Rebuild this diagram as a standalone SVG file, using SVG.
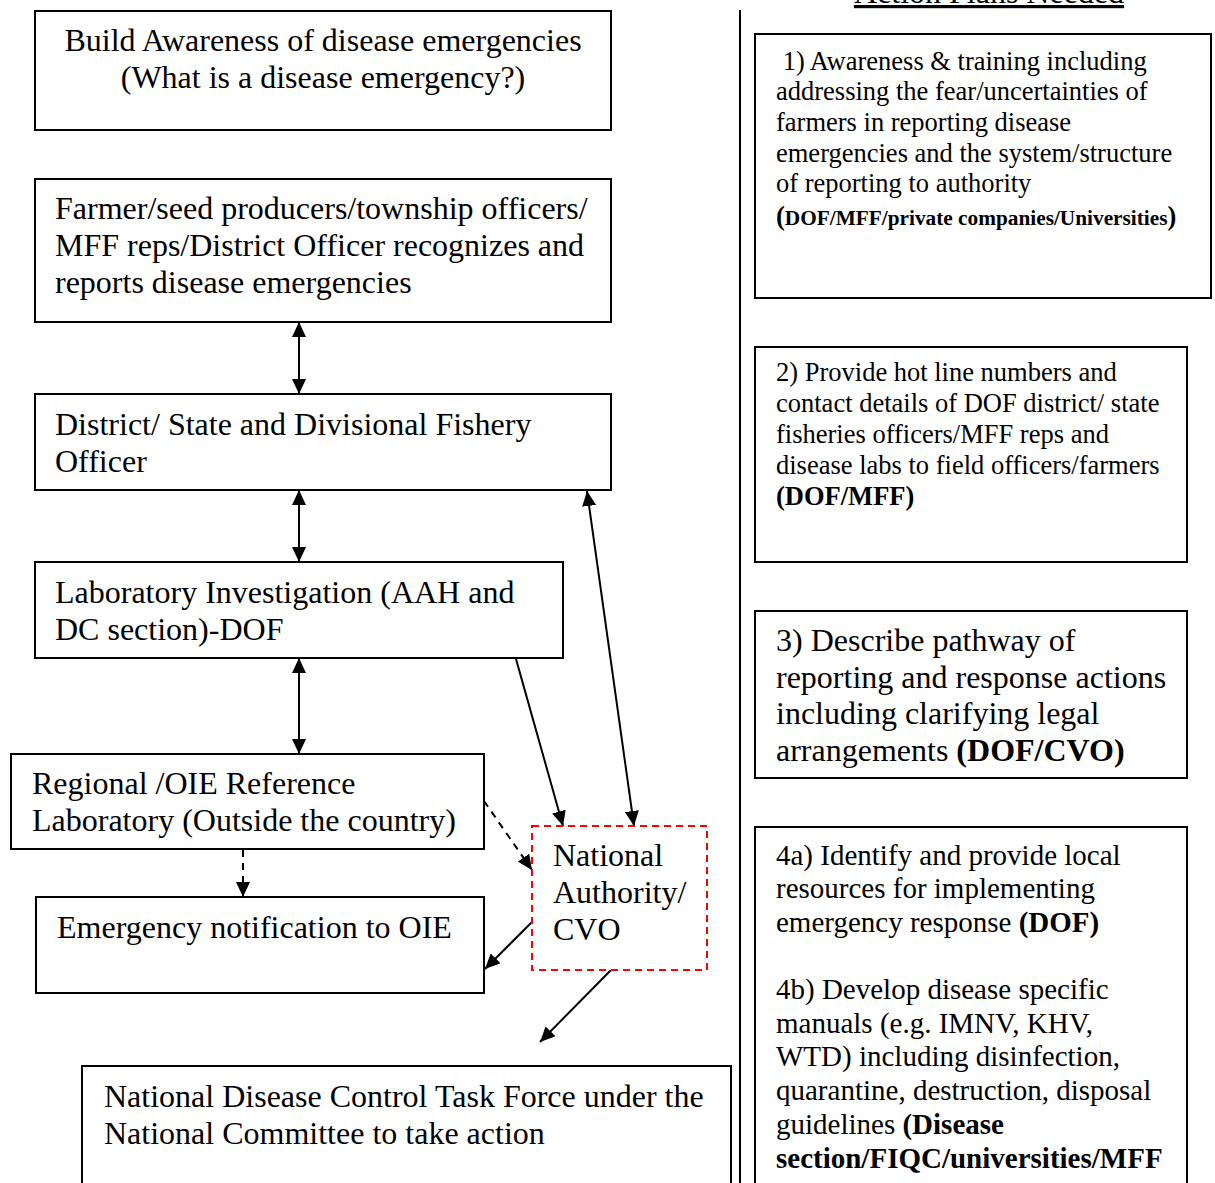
<svg xmlns="http://www.w3.org/2000/svg" width="1215" height="1183" viewBox="0 0 1215 1183">
<style>
.box{fill:#fff;stroke:#000;stroke-width:2}
.cvo{fill:#fff;stroke:#ff0000;stroke-width:2;stroke-dasharray:7,5}
.t{font-family:"Liberation Serif","Times New Roman",serif;fill:#000}
.t32{font-size:32px}
.t26{font-size:26.5px}
.t29{font-size:29px}
.b{font-weight:bold}
.c{stroke:#000;stroke-width:2;fill:none}
.d{stroke-dasharray:7,6}
</style>
<defs>
<marker id="ah" viewBox="0 0 15 14" refX="15" refY="7" markerWidth="15" markerHeight="14" markerUnits="userSpaceOnUse" orient="auto-start-reverse">
<path d="M0,0 L15,7 L0,14 z" fill="#000"/>
</marker>
</defs>
<rect width="1215" height="1183" fill="#fff"/>

<g id="divider">
<line x1="740" y1="10" x2="740" y2="1183" stroke="#000" stroke-width="2"/>
</g>
<g id="heading">
<text class="t t32" x="989" y="3" text-anchor="middle" text-decoration="underline">Action Plans Needed</text>
</g>

<g id="connectors">
<line class="c" x1="299" y1="322" x2="299" y2="394" marker-start="url(#ah)" marker-end="url(#ah)"/>
<line class="c" x1="299" y1="490" x2="299" y2="562" marker-start="url(#ah)" marker-end="url(#ah)"/>
<line class="c" x1="299" y1="658" x2="299" y2="754" marker-start="url(#ah)" marker-end="url(#ah)"/>
<line class="c" x1="587" y1="491" x2="634" y2="826" marker-start="url(#ah)" marker-end="url(#ah)"/>
<line class="c" x1="516" y1="659" x2="563" y2="826" marker-end="url(#ah)"/>
<line class="c d" x1="484" y1="801" x2="532" y2="870" marker-end="url(#ah)"/>
<line class="c d" x1="243" y1="850" x2="243" y2="897" marker-end="url(#ah)"/>
<line class="c" x1="532" y1="922" x2="485" y2="969" marker-end="url(#ah)"/>
<line class="c" x1="611" y1="970" x2="540" y2="1042" marker-end="url(#ah)"/>
</g>

<g id="n-awareness">
<rect class="box" x="35" y="11" width="576" height="119"/>
<text class="t t32" x="323" y="51" text-anchor="middle">Build Awareness of disease emergencies</text>
<text class="t t32" x="323" y="88" text-anchor="middle">(What is a disease emergency?)</text>
</g>

<g id="n-farmer">
<rect class="box" x="35" y="179" width="576" height="143"/>
<text class="t t32" x="55" y="219">Farmer/seed producers/township officers/</text>
<text class="t t32" x="55" y="256">MFF reps/District Officer recognizes and</text>
<text class="t t32" x="55" y="293">reports disease emergencies</text>
</g>

<g id="n-district">
<rect class="box" x="35" y="394" width="576" height="96"/>
<text class="t t32" x="55" y="435">District/ State and Divisional Fishery</text>
<text class="t t32" x="55" y="472">Officer</text>
</g>

<g id="n-lab">
<rect class="box" x="35" y="562" width="528" height="96"/>
<text class="t t32" x="55" y="603">Laboratory Investigation (AAH and</text>
<text class="t t32" x="55" y="640">DC section)-DOF</text>
</g>

<g id="n-regional">
<rect class="box" x="11" y="754" width="473" height="95"/>
<text class="t t32" x="32" y="794">Regional /OIE Reference</text>
<text class="t t32" x="32" y="831">Laboratory (Outside the country)</text>
</g>

<g id="n-oie">
<rect class="box" x="36" y="897" width="448" height="96"/>
<text class="t t32" x="57" y="938">Emergency notification to OIE</text>
</g>

<g id="n-cvo">
<rect class="cvo" x="532" y="826" width="175" height="144"/>
<text class="t t32" x="553" y="866">National</text>
<text class="t t32" x="553" y="903">Authority/</text>
<text class="t t32" x="553" y="940">CVO</text>
</g>

<g id="n-taskforce">
<rect class="box" x="82" y="1066" width="649" height="130"/>
<text class="t t32" x="104" y="1107">National Disease Control Task Force under the</text>
<text class="t t32" x="104" y="1144">National Committee to take action</text>
</g>

<g id="a-1">
<rect class="box" x="755" y="34" width="456" height="264"/>
<text class="t t26" x="776" y="70" xml:space="preserve"> 1) Awareness &amp; training including</text>
<text class="t t26" x="776" y="100">addressing the fear/uncertainties of</text>
<text class="t t26" x="776" y="131">farmers in reporting disease</text>
<text class="t t26" x="776" y="162">emergencies and the system/structure</text>
<text class="t t26" x="776" y="192">of reporting to authority</text>
<text class="t t26 b" x="776" y="225">(<tspan font-size="21.3px">DOF/MFF/private companies/Universities</tspan>)</text>
</g>

<g id="a-2">
<rect class="box" x="755" y="347" width="432" height="215"/>
<text class="t t26" x="776" y="381">2) Provide hot line numbers and</text>
<text class="t t26" x="776" y="412">contact details of DOF district/ state</text>
<text class="t t26" x="776" y="443">fisheries officers/MFF reps and</text>
<text class="t t26" x="776" y="474">disease labs to field officers/farmers</text>
<text class="t t26 b" x="776" y="505">(DOF/MFF)</text>
</g>

<g id="a-3">
<rect class="box" x="755" y="611" width="432" height="167"/>
<text class="t t32" x="776" y="651">3) Describe pathway of</text>
<text class="t t32" x="776" y="688">reporting and response actions</text>
<text class="t t32" x="776" y="724">including clarifying legal</text>
<text class="t t32" x="776" y="761">arrangements <tspan class="b">(DOF/CVO)</tspan></text>
</g>

<g id="a-4">
<rect class="box" x="755" y="827" width="432" height="370"/>
<text class="t t29" x="776" y="865">4a) Identify and provide local</text>
<text class="t t29" x="776" y="898">resources for implementing</text>
<text class="t t29" x="776" y="932">emergency response <tspan class="b">(DOF)</tspan></text>
<text class="t t29" x="776" y="999">4b) Develop disease specific</text>
<text class="t t29" x="776" y="1033">manuals (e.g. IMNV, KHV,</text>
<text class="t t29" x="776" y="1066">WTD) including disinfection,</text>
<text class="t t29" x="776" y="1100">quarantine, destruction, disposal</text>
<text class="t t29" x="776" y="1134">guidelines <tspan class="b">(Disease</tspan></text>
<text class="t t29 b" x="776" y="1168">section/FIQC/universities/MFF</text>
</g>
</svg>
